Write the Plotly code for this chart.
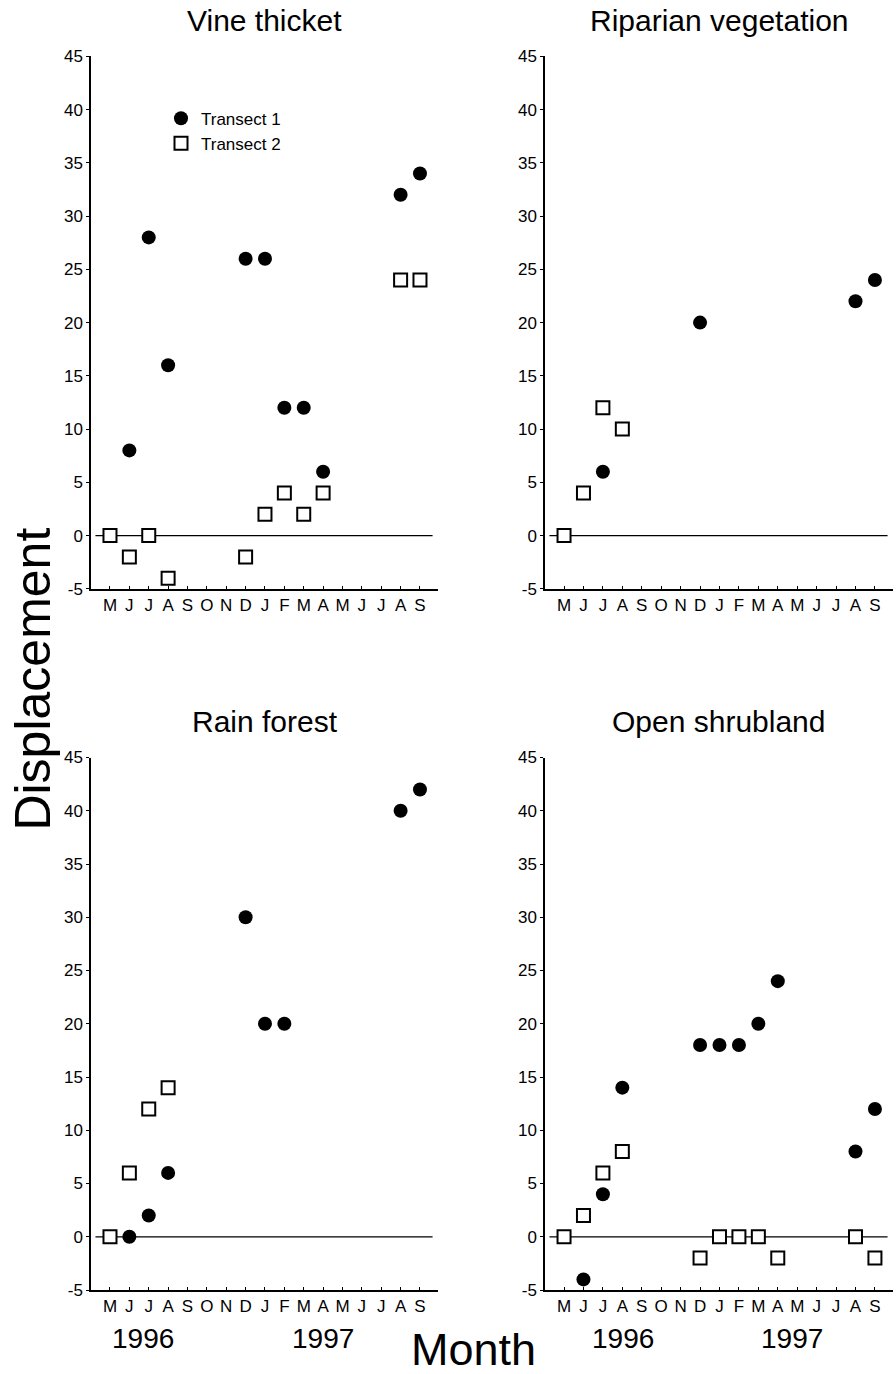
import plotly.graph_objects as go

W, H = 896, 1374

month_keys = ["May96", "Jun96", "Jul96", "Aug96", "Sep96", "Oct96", "Nov96", "Dec96",
              "Jan97", "Feb97", "Mar97", "Apr97", "May97", "Jun97", "Jul97", "Aug97", "Sep97"]
month_labels = ["M", "J", "J", "A", "S", "O", "N", "D", "J", "F", "M", "A", "M", "J", "J", "A", "S"]
y_ticks = [-5, 0, 5, 10, 15, 20, 25, 30, 35, 40, 45]
y_tick_labels = ["-5", "0", "5", "10", "15", "20", "25", "30", "35", "40", "45"]

# Vine thicket
vine_t1_months = ["Jun96", "Jul96", "Aug96", "Dec96", "Jan97", "Feb97", "Mar97", "Apr97", "Aug97", "Sep97"]
vine_t1 = [8, 28, 16, 26, 26, 12, 12, 6, 32, 34]
vine_t2_months = ["May96", "Jun96", "Jul96", "Aug96", "Dec96", "Jan97", "Feb97", "Mar97", "Apr97", "Aug97", "Sep97"]
vine_t2 = [0, -2, 0, -4, -2, 2, 4, 2, 4, 24, 24]

# Riparian vegetation
ripar_t1_months = ["Jul96", "Dec96", "Aug97", "Sep97"]
ripar_t1 = [6, 20, 22, 24]
ripar_t2_months = ["May96", "Jun96", "Jul96", "Aug96"]
ripar_t2 = [0, 4, 12, 10]

# Rain forest
rain_t1_months = ["Jun96", "Jul96", "Aug96", "Dec96", "Jan97", "Feb97", "Aug97", "Sep97"]
rain_t1 = [0, 2, 6, 30, 20, 20, 40, 42]
rain_t2_months = ["May96", "Jun96", "Jul96", "Aug96"]
rain_t2 = [0, 6, 12, 14]

# Open shrubland
shrub_t1_months = ["Jun96", "Jul96", "Aug96", "Dec96", "Jan97", "Feb97", "Mar97", "Apr97", "Aug97", "Sep97"]
shrub_t1 = [-4, 4, 14, 18, 18, 18, 20, 24, 8, 12]
shrub_t2_months = ["May96", "Jun96", "Jul96", "Aug96", "Dec96", "Jan97", "Feb97", "Mar97", "Apr97", "Aug97", "Sep97"]
shrub_t2 = [0, 2, 6, 8, -2, 0, 0, 0, -2, 0, -2]

panels = [
    ("Vine thicket", vine_t1_months, vine_t1, vine_t2_months, vine_t2),
    ("Riparian vegetation", ripar_t1_months, ripar_t1, ripar_t2_months, ripar_t2),
    ("Rain forest", rain_t1_months, rain_t1, rain_t2_months, rain_t2),
    ("Open shrubland", shrub_t1_months, shrub_t1, shrub_t2_months, shrub_t2),
]

FONT = "Liberation Sans, Arial, Helvetica, sans-serif"

def mi(keys):
    return [month_keys.index(k) for k in keys]

xdom = {"L": (91 / W, 438 / W), "R": (545 / W, 893 / W)}
ydom = {"T": (1 - 588 / H, 1 - 48 / H), "B": (1 - 1299 / H, 1 - 759 / H)}
pos = [("L", "T"), ("R", "T"), ("L", "B"), ("R", "B")]

fig = go.Figure()
layout = dict(
    width=W, height=H, margin=dict(l=0, r=0, t=0, b=0),
    paper_bgcolor="white", plot_bgcolor="white",
    font=dict(family=FONT, color="black", size=17),
    showlegend=True,
    legend=dict(x=161 / W, y=1 - 93 / H, xanchor="left", yanchor="top",
                bgcolor="rgba(0,0,0,0)", font=dict(size=17, family=FONT),
                tracegroupgap=0, itemsizing="trace"),
)
shapes = []
annotations = []
xr = [-0.98, 16.93]

for i, (title, m1, v1, m2, v2) in enumerate(panels):
    n = "" if i == 0 else str(i + 1)
    xa, ya = "x" + n, "y" + n
    px, py = pos[i]
    fig.add_trace(go.Scatter(
        x=mi(m1), y=v1, mode="markers", name="Transect 1",
        marker=dict(symbol="circle", size=14, color="black", line=dict(width=0)),
        xaxis=xa, yaxis=ya, showlegend=(i == 0), cliponaxis=False))
    fig.add_trace(go.Scatter(
        x=mi(m2), y=v2, mode="markers", name="Transect 2",
        marker=dict(symbol="square", size=13, color="white", line=dict(width=2, color="black")),
        xaxis=xa, yaxis=ya, showlegend=(i == 0), cliponaxis=False))
    layout["xaxis" + n] = dict(
        domain=xdom[px], anchor=ya, range=xr,
        tickmode="array", tickvals=list(range(len(month_labels))), ticktext=month_labels,
        showline=True, linecolor="black", linewidth=1.5, showgrid=False, zeroline=False,
        ticks="inside", ticklen=3, tickcolor="black", tickwidth=1,
        tickfont=dict(size=17, family=FONT), fixedrange=True)
    layout["yaxis" + n] = dict(
        domain=ydom[py], anchor=xa, range=[-5, 45],
        tickmode="array", tickvals=y_ticks, ticktext=y_tick_labels,
        showline=True, linecolor="black", linewidth=1.5, showgrid=False, zeroline=False,
        ticks="outside", ticklen=3, tickcolor="black", tickwidth=1,
        tickfont=dict(size=17, family=FONT), fixedrange=True)
    shapes.append(dict(type="line", xref=xa, yref=ya, x0=-0.75, x1=16.65, y0=0, y1=0,
                       line=dict(color="black", width=1.3), layer="below"))
    cx = (xdom[px][0] + xdom[px][1]) / 2
    ty = 12 if py == "T" else 722
    annotations.append(dict(text=title, xref="paper", yref="paper", x=cx, y=1 - ty / H,
                            xanchor="center", yanchor="middle", showarrow=False,
                            font=dict(size=30, family=FONT)))

year_pos = [("x3", 1.70, "1996"), ("x3", 10.98, "1997"), ("x4", 3.04, "1996"), ("x4", 11.75, "1997")]
for xa, xv, txt in year_pos:
    annotations.append(dict(text=txt, xref=xa, yref="paper", x=xv, y=1 - 1348 / H,
                            xanchor="center", yanchor="middle", showarrow=False,
                            font=dict(size=28, family=FONT)))

annotations.append(dict(text="Month", xref="paper", yref="paper", x=474 / W, y=1 - 1359 / H,
                        xanchor="center", yanchor="middle", showarrow=False,
                        font=dict(size=45, family=FONT)))
annotations.append(dict(text="Displacement", xref="paper", yref="paper", x=33 / W, y=1 - 680 / H,
                        xanchor="center", yanchor="middle", showarrow=False, textangle=-90,
                        font=dict(size=50, family=FONT)))

layout["shapes"] = shapes
layout["annotations"] = annotations
fig.update_layout(**layout)

page_fix = ("document.documentElement.style.margin='0';document.body.style.margin='0';"
            "document.body.style.overflow='hidden';document.documentElement.style.overflow='hidden';")
fig.write_html("out.html", config={"displayModeBar": False}, post_script=page_fix)
